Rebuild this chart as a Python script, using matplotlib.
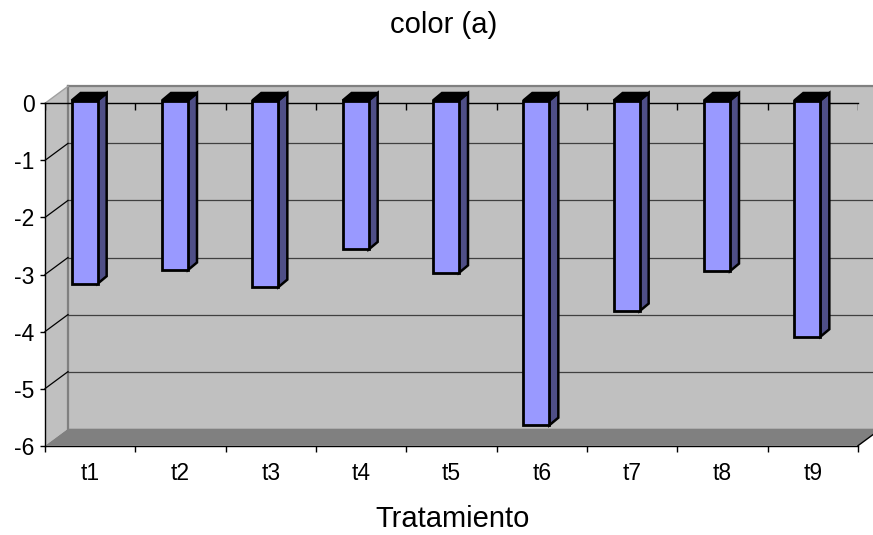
import matplotlib
matplotlib.use('Agg')
import matplotlib.pyplot as plt
from matplotlib.patches import Polygon
import numpy as np

categories = ['t1', 't2', 't3', 't4', 't5', 't6', 't7', 't8', 't9']
values = [-3.21, -2.97, -3.27, -2.61, -3.02, -5.69, -3.69, -2.99, -4.14]
yticks = [0, -1, -2, -3, -4, -5, -6]
ytick_labels = ['0', '-1', '-2', '-3', '-4', '-5', '-6']
title = 'color (a)'
xlabel = 'Tratamiento'

plt.rcParams['font.family'] = ['Liberation Sans', 'DejaVu Sans']
plt.rcParams['axes.unicode_minus'] = False

W, H = 873, 535
fig = plt.figure(figsize=(W / 100, H / 100), dpi=100)
fig.patch.set_facecolor('white')
ax = fig.add_axes([45 / W, (H - 445.7) / H, 813 / W, 342.4 / H])
n = len(categories)
ymin, ymax = min(yticks), max(yticks)
ax.set_xlim(0, n)
ax.set_ylim(ymin, ymax)
ax.patch.set_visible(False)

px_x = 813 / n
px_y = 342.4 / (ymax - ymin)
DX, DY = 23 / px_x, 17 / px_y          # wall depth
BDX, BDY = 9 / px_x, 7.5 / px_y        # bar depth
BOFF = 2.8 / px_y                      # bar front slightly behind front plane
BW = 0.288
BLEFT = 0.205

wall = '#C0C0C0'
floor_c = '#808080'

# back wall
ax.add_patch(Polygon([(DX, ymin + DY), (n + 1, ymin + DY), (n + 1, ymax + DY), (DX, ymax + DY)],
                     closed=True, fc=wall, ec='none', zorder=0.5, clip_on=False))
# side wall
ax.add_patch(Polygon([(0, ymin), (DX, ymin + DY), (DX, ymax + DY), (0, ymax)],
                     closed=True, fc=wall, ec='none', zorder=0.5, clip_on=False))
# floor
ax.add_patch(Polygon([(0, ymin), (n, ymin), (n + DX, ymin + DY), (DX, ymin + DY)],
                     closed=True, fc=floor_c, ec='none', zorder=0.6, clip_on=False))
# back wall borders
ax.plot([DX, DX], [ymin + DY, ymax + DY], color='#808080', lw=1.6, zorder=0.65, clip_on=False)
ax.plot([DX, n + 1], [ymax + DY, ymax + DY], color='#808080', lw=1.6, zorder=0.65, clip_on=False)
ax.plot([0, DX], [ymax, ymax + DY], color='#A0A0A0', lw=1.0, zorder=0.65, clip_on=False)
# floor right edge
ax.plot([n, n + DX], [ymin, ymin + DY], color='black', lw=1.0, zorder=0.7, clip_on=False)

# gridlines on back and side walls
for y in yticks:
    if y in (ymin, ymax):
        continue
    ax.plot([DX, n + 1], [y + DY, y + DY], color='#404040', lw=0.9, zorder=0.7, clip_on=False)
    ax.plot([0, DX], [y, y + DY], color='black', lw=0.9, zorder=0.7, clip_on=False)

# bars
centers = np.arange(n) + 0.5
front_x = centers - BLEFT + BW / 2
ax.bar(front_x, values, width=BW, bottom=BOFF, color='#9999FF', edgecolor='black',
       linewidth=2.0, zorder=3.2, clip_on=False)
for i, v in enumerate(values):
    L = front_x[i] - BW / 2
    R = front_x[i] + BW / 2
    top = BOFF
    bot = BOFF + v
    ax.add_patch(Polygon([(R, bot), (R, top), (R + BDX, top + BDY), (R + BDX, bot + BDY)],
                         closed=True, fc='#4F4F87', ec='black', lw=1.8, zorder=3.0,
                         joinstyle='miter', clip_on=False))
    ax.add_patch(Polygon([(L, top), (R, top), (R + BDX, top + BDY), (L + BDX, top + BDY)],
                         closed=True, fc='black', ec='black', lw=1.8, zorder=3.1, clip_on=False))

# spines
for s in ('left', 'bottom', 'top'):
    ax.spines[s].set_color('black')
    ax.spines[s].set_linewidth(1.0)
ax.spines['right'].set_visible(False)

# top category axis ticks (pointing down)
ax.vlines(np.arange(n + 1), ymax - 7 / px_y, ymax, color='black', lw=1.0, zorder=2.5)

ax.set_yticks(yticks, ytick_labels)
ax.tick_params(axis='y', which='major', direction='out', length=3.6, width=1.0,
               labelsize=16.5, pad=4, right=False)
ax.set_xticks(np.arange(n + 1))
ax.set_xticklabels([])
ax.set_xticks(centers, categories, minor=True)
ax.tick_params(axis='x', which='major', direction='out', length=4.3, width=1.0, top=False)
ax.tick_params(axis='x', which='minor', length=0, labelsize=16.5, pad=11.5, top=False)

ax.set_xlabel(xlabel, fontsize=21)
ax.xaxis.label.set_va('center')
ax.xaxis.set_label_coords((453 - 45) / 813, -(519 - 445.7) / 342.4)

fig.text(444 / W, 1 - 25 / H, title, ha='center', va='center', fontsize=21)

fig.savefig('out.png', dpi=100)
